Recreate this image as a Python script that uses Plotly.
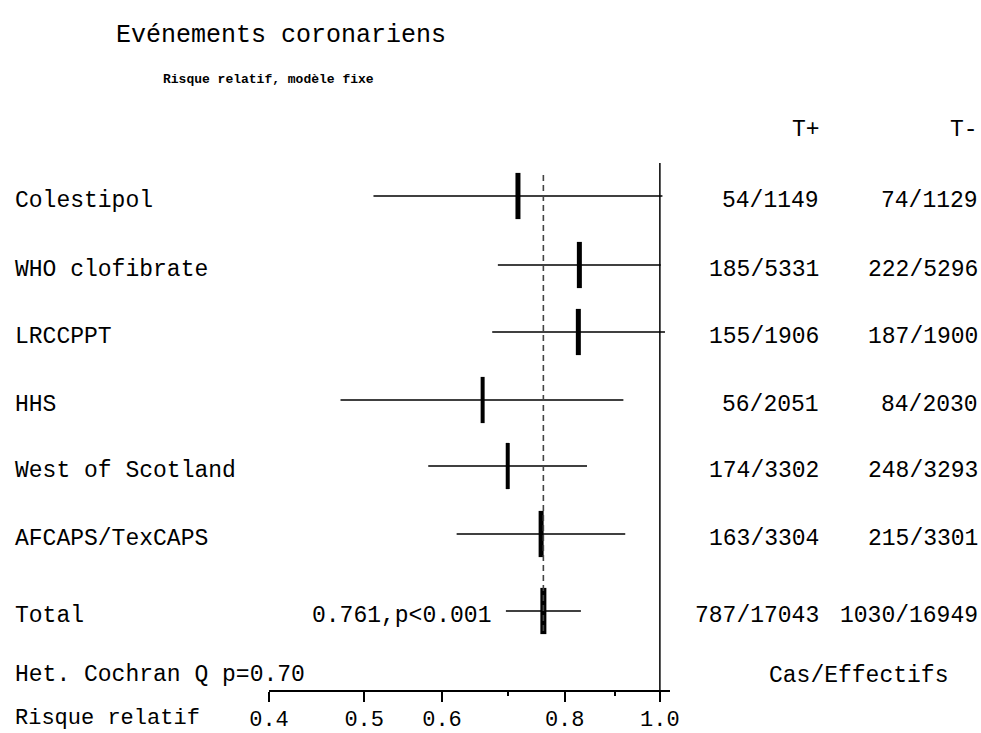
import math
import plotly.graph_objects as go

# ---------------- data ----------------
studies = ["Colestipol", "WHO clofibrate", "LRCCPPT", "HHS",
           "West of Scotland", "AFCAPS/TexCAPS"]
rr = [0.717, 0.828, 0.826, 0.660, 0.700, 0.757]
ci_low = [0.511, 0.684, 0.675, 0.473, 0.581, 0.621]
ci_high = [1.006, 1.002, 1.012, 0.918, 0.843, 0.922]
t_plus = ["54/1149", "185/5331", "155/1906", "56/2051", "174/3302", "163/3304"]
t_minus = ["74/1129", "222/5296", "187/1900", "84/2030", "248/3293", "215/3301"]

total_label = "Total"
total_rr = 0.761
total_low = 0.697
total_high = 0.831
total_plus = "787/17043"
total_minus = "1030/16949"
total_text = "0.761,p<0.001"
het_text = "Het. Cochran Q p=0.70"

tick_vals = [0.4, 0.5, 0.6, 0.8, 1.0]
tick_text = ["0.4", "0.5", "0.6", "0.8", "1.0"]
minor_vals = [0.7, 0.9]
axis_min, axis_max = 0.4, 1.024

# ---------------- layout constants ----------------
W, H = 981, 733
FONT = "Liberation Mono, Courier New, monospace"
FS = 23
row_y = [196, 265, 332, 400, 466, 534]     # pixel rows (layout)
total_y = 611
text_dy = 5
mark_w = [5, 5, 5, 4, 4, 5]
total_mark_w = 6
axis_y = 691
ax_left, ax_right = 269, 670

fig = go.Figure()

# CI lines
xs, ys = [], []
for lo, hi, y in zip(ci_low + [total_low], ci_high + [total_high], row_y + [total_y]):
    xs += [lo, hi, None]
    ys += [y, y, None]
fig.add_trace(go.Scatter(x=xs, y=ys, mode="lines", cliponaxis=False,
                         line=dict(color="black", width=1.5),
                         hoverinfo="skip", showlegend=False))

# point estimates as vertical ticks
fig.add_trace(go.Scatter(
    x=rr + [total_rr], y=row_y + [total_y], mode="markers", cliponaxis=False,
    marker=dict(symbol="line-ns", size=33,
                line=dict(color="black", width=mark_w + [total_mark_w])),
    hoverinfo="skip", showlegend=False))

# reference lines
fig.add_shape(type="line", xref="x", yref="y", x0=1.0, x1=1.0, y0=163, y1=axis_y,
              line=dict(color="black", width=1.5))
fig.add_shape(type="line", xref="x", yref="y", x0=total_rr, x1=total_rr, y0=175, y1=633,
              line=dict(color="#444444", width=1.6, dash="6px,4px"))

ann = []
def txt(text, x, y, anchor="left", size=FS, weight="normal"):
    ann.append(dict(text=text, x=x / W, y=y, xref="paper", yref="y",
                    xanchor=anchor, yanchor="middle", showarrow=False,
                    font=dict(family=FONT, size=size, color="black", weight=weight)))

# titles
txt("Evénements coronariens", 281, 35, "center", 25)
txt("Risque relatif, modèle fixe", 268, 79, "center", 13, "bold")
# headers
txt("T+", 822, 130, "right")
txt("T-", 980, 130, "right")

for name, y, tp, tm in zip(studies, row_y, t_plus, t_minus):
    txt(name, 13, y + text_dy)
    txt(tp, 821, y + text_dy, "right")
    txt(tm, 980, y + text_dy, "right")

txt(total_label, 13, total_y + text_dy)
txt(total_text, 493, total_y + text_dy, "right")
txt(total_plus, 821, total_y + text_dy, "right")
txt(total_minus, 980, total_y + text_dy, "right")

txt(het_text, 13, 675)
txt("Cas/Effectifs", 858, 676, "center")
txt("Risque relatif", 13, 718, size=22)

fig.update_layout(
    template="none",
    width=W, height=H,
    margin=dict(l=0, r=0, t=0, b=0, pad=0, autoexpand=False),
    paper_bgcolor="white", plot_bgcolor="rgba(0,0,0,0)",
    showlegend=False, hovermode=False,
    annotations=ann,
    xaxis=dict(type="log", domain=[ax_left / W, ax_right / W],
               range=[math.log10(axis_min), math.log10(axis_max)],
               anchor="free", position=1 - axis_y / H, automargin=False,
               showline=True, linecolor="black", linewidth=1.5,
               showgrid=False, zeroline=False,
               ticks="outside", ticklen=10, tickwidth=1.5, tickcolor="black",
               tickmode="array", tickvals=tick_vals, ticktext=tick_text,
               ticklabelstandoff=-2,
               minor=dict(tickmode="array", tickvals=minor_vals, ticks="outside",
                          ticklen=4, tickwidth=1.5, tickcolor="black",
                          showgrid=False),
               tickfont=dict(family=FONT, size=22, color="black"),
               fixedrange=True),
    yaxis=dict(range=[H, 0], domain=[0, 1], visible=False, showgrid=False,
               zeroline=False, automargin=False, fixedrange=True),
)

fig.write_html("out.html")
